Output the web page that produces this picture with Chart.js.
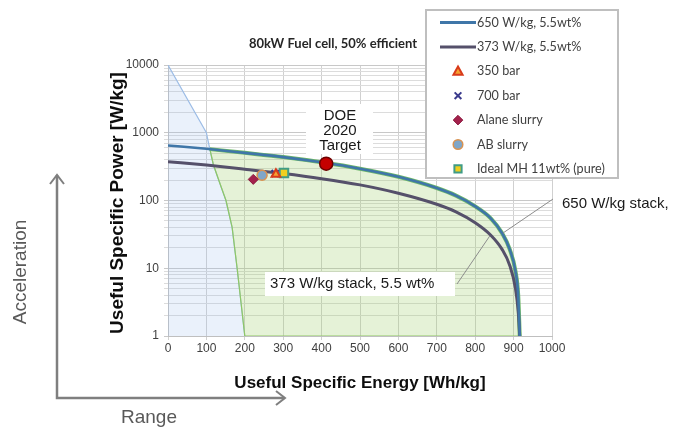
<!DOCTYPE html>
<html>
<head>
<meta charset="utf-8">
<script src="https://cdn.jsdelivr.net/npm/chart.js@4.4.1/dist/chart.umd.min.js"></script>
<style>
  html, body { margin: 0; padding: 0; background: #ffffff; }
  #wrap { width: 680px; height: 427px; }
</style>
</head>
<body>
<div id="wrap"><canvas id="c" width="680" height="427"></canvas></div>
<script>
// ---------------- data ----------------
const xTickValues = [0, 100, 200, 300, 400, 500, 600, 700, 800, 900, 1000];
const yTickLabels = [1, 10, 100, 1000, 10000];
const yGridValues = [1,2,3,4,5,6,7,8,9,10,20,30,40,50,60,70,80,90,100,200,300,400,500,600,700,800,900,1000,2000,3000,4000,5000,6000,7000,8000,9000,10000];

// Ragone curves (specific energy Wh/kg vs specific power W/kg)
const curveEnergy = [0, 100, 200, 300, 400, 500, 600, 700, 750, 800, 840, 870, 890, 905, 912, 916];
const power650    = [650, 580, 505, 437, 366, 295, 224, 153, 118, 82, 55, 33, 19, 9, 4, 1];
const power373    = [373, 333, 290, 250, 210, 170, 128, 88, 68, 47, 31, 19, 11, 5, 2.3, 1];

// blue (left) region boundary
const blueEdgeEnergy = [0, 100, 104, 109, 118, 135, 151, 167, 180, 200];
const blueEdgePower  = [10000, 1000, 780, 573, 340, 180, 100, 40, 10, 1];

// green region lower/left boundary
const greenEdgeEnergy = [109, 118, 135, 151, 167, 180, 200, 916];
const greenEdgePower  = [573, 340, 180, 100, 40, 10, 1, 1];
// green region upper boundary start (on the 650 W/kg curve)
const greenTopStart = {x: 109, y: 573};

// storage options
const pt350bar  = [{x: 281, y: 245}];
const pt700bar  = [{x: 279, y: 250}];
const ptAlane   = [{x: 222, y: 205}];
const ptAB      = [{x: 245, y: 236}];
const ptIdealMH = [{x: 302, y: 255}];
const ptDOE     = [{x: 412, y: 350}];

const legendLabels = ['650 W/kg, 5.5wt%', '373 W/kg, 5.5wt%', '350 bar', '700 bar', 'Alane slurry', 'AB slurry', 'Ideal MH 11wt% (pure)'];

// ---------------- build ----------------
const zip = (xs, ys) => xs.map((x, i) => ({x, y: ys[i]}));
const greenTop = [greenTopStart].concat(zip(curveEnergy, power650).filter(p => p.x > greenTopStart.x));

const datasets = [
  { label: legendLabels[0], inLegend: true, data: zip(curveEnergy, power650), showLine: true, pointRadius: 0,
    borderColor: '#3f76a8', borderWidth: 2.6, cubicInterpolationMode: 'monotone', fill: false, order: 2 },
  { label: legendLabels[1], inLegend: true, data: zip(curveEnergy, power373), showLine: true, pointRadius: 0,
    borderColor: '#55506a', borderWidth: 3, cubicInterpolationMode: 'monotone', fill: false, order: 2 },
  { label: legendLabels[2], inLegend: true, data: pt350bar, pointStyle: 'triangle', pointRadius: 5,
    backgroundColor: '#f5a030', borderColor: '#d83a1a', borderWidth: 2, order: 1 },
  { label: legendLabels[3], inLegend: true, data: pt700bar, pointStyle: 'crossRot', pointRadius: 5,
    backgroundColor: '#3a3a8c', borderColor: '#3a3a8c', borderWidth: 2, order: 1 },
  { label: legendLabels[4], inLegend: true, data: ptAlane, pointStyle: 'rectRot', pointRadius: 5,
    backgroundColor: '#a3214c', borderColor: '#8c1a40', borderWidth: 1, order: 1 },
  { label: legendLabels[5], inLegend: true, data: ptAB, pointStyle: 'circle', pointRadius: 5,
    backgroundColor: '#7fa6c8', borderColor: '#d99250', borderWidth: 1.5, order: 1 },
  { label: legendLabels[6], inLegend: true, data: ptIdealMH, pointStyle: 'rect', pointRadius: 6,
    backgroundColor: '#f0cf1e', borderColor: '#3f9c86', borderWidth: 2, order: 1 },
  { label: 'DOE 2020 Target', data: ptDOE, pointStyle: 'circle', pointRadius: 6.5,
    backgroundColor: '#c40000', borderColor: '#6e0000', borderWidth: 1.5, order: 1 },
  { label: 'blue region', data: zip(blueEdgeEnergy, blueEdgePower), showLine: true, pointRadius: 0,
    borderColor: '#9dbde6', borderWidth: 1.2, backgroundColor: 'rgba(160,190,235,0.22)', fill: 'start', tension: 0, order: 6 },
  { label: 'green edge', data: zip(greenEdgeEnergy, greenEdgePower), showLine: true, pointRadius: 0,
    borderColor: '#8cc665', borderWidth: 1.2, fill: false, tension: 0, order: 5 },
  { label: 'green top', data: greenTop, showLine: true, pointRadius: 0,
    borderColor: '#6fb86a', borderWidth: 4, backgroundColor: 'rgba(160,210,110,0.28)', fill: 9,
    cubicInterpolationMode: 'monotone', order: 4 }
];

// ---------------- plugins ----------------
function drawMarker(ctx, ds, x, y) {
  const r = ds.pointRadius;
  ctx.save();
  ctx.fillStyle = ds.backgroundColor;
  ctx.strokeStyle = ds.borderColor;
  ctx.lineWidth = ds.borderWidth;
  ctx.beginPath();
  switch (ds.pointStyle) {
    case 'triangle':
      ctx.moveTo(x, y - r); ctx.lineTo(x + r * 0.95, y + r * 0.7); ctx.lineTo(x - r * 0.95, y + r * 0.7); ctx.closePath();
      ctx.fill(); ctx.stroke(); break;
    case 'crossRot':
      ctx.moveTo(x - r * 0.7, y - r * 0.7); ctx.lineTo(x + r * 0.7, y + r * 0.7);
      ctx.moveTo(x + r * 0.7, y - r * 0.7); ctx.lineTo(x - r * 0.7, y + r * 0.7); ctx.stroke(); break;
    case 'rectRot':
      ctx.moveTo(x, y - r); ctx.lineTo(x + r, y); ctx.lineTo(x, y + r); ctx.lineTo(x - r, y); ctx.closePath();
      ctx.fill(); ctx.stroke(); break;
    case 'rect':
      ctx.rect(x - r * 0.75, y - r * 0.75, r * 1.5, r * 1.5); ctx.fill(); ctx.stroke(); break;
    default:
      ctx.arc(x, y, r, 0, Math.PI * 2); ctx.fill(); ctx.stroke();
  }
  ctx.restore();
}

const overlay = {
  id: 'overlay',
  afterDraw(chart) {
    const ctx = chart.ctx;
    const xs = chart.scales.x, ys = chart.scales.y;
    ctx.save();

    // chart subtitle
    ctx.fillStyle = '#262626';
    ctx.font = 'bold 13px Lato, "Open Sans", sans-serif';
    ctx.textAlign = 'center'; ctx.textBaseline = 'middle';
    ctx.fillText('80kW Fuel cell, 50% efficient', 333, 44);

    // axis titles
    ctx.fillStyle = '#0d0d0d';
    ctx.font = 'bold 17px "Liberation Sans", Arial, sans-serif';
    ctx.fillText('Useful Specific Energy [Wh/kg]', 360, 383);
    ctx.save();
    ctx.translate(118, 203); ctx.rotate(-Math.PI / 2);
    ctx.font = 'bold 19px "Liberation Sans", Arial, sans-serif';
    ctx.fillText('Useful Specific Power [W/kg]', 0, 0);
    ctx.restore();

    // Acceleration / Range arrows
    ctx.strokeStyle = '#7f7f7f'; ctx.fillStyle = '#7f7f7f'; ctx.lineWidth = 2.5;
    ctx.beginPath(); ctx.moveTo(57, 175); ctx.lineTo(57, 398); ctx.lineTo(284, 398); ctx.stroke();
    ctx.lineWidth = 2;
    ctx.beginPath(); ctx.moveTo(50, 184); ctx.lineTo(57, 175); ctx.lineTo(64, 184); ctx.stroke();
    ctx.beginPath(); ctx.moveTo(276, 391); ctx.lineTo(285, 398); ctx.lineTo(276, 405); ctx.stroke();
    ctx.fillStyle = '#595959';
    ctx.font = '19px "Liberation Sans", Arial, sans-serif';
    ctx.fillText('Range', 149, 418);
    ctx.save(); ctx.translate(21, 272); ctx.rotate(-Math.PI / 2);
    ctx.fillText('Acceleration', 0, 0); ctx.restore();

    // DOE label
    ctx.fillStyle = '#ffffff';
    ctx.fillRect(306, 104, 67, 50);
    ctx.fillStyle = '#1a1a1a';
    ctx.font = '15px "Liberation Sans", Arial, sans-serif';
    ctx.fillText('DOE', 340, 116);
    ctx.fillText('2020', 340, 131);
    ctx.fillText('Target', 340, 146);

    // leader lines to curves
    ctx.strokeStyle = '#8c8c8c'; ctx.lineWidth = 1;
    ctx.beginPath();
    ctx.moveTo(553, 199); ctx.lineTo(xs.getPixelForValue(872), ys.getPixelForValue(33));
    ctx.moveTo(457, 284); ctx.lineTo(xs.getPixelForValue(838), ys.getPixelForValue(30));
    ctx.stroke();

    // 373 label
    ctx.fillStyle = '#ffffff';
    ctx.fillRect(265, 272, 190, 24);
    ctx.fillStyle = '#1a1a1a';
    ctx.textAlign = 'left';
    ctx.fillText('373 W/kg stack, 5.5 wt%', 270, 284);
    ctx.fillText('650 W/kg stack,', 562, 204);

    // legend
    const L = {x: 426, y: 10, w: 192, h: 168};
    ctx.fillStyle = '#ffffff';
    ctx.fillRect(L.x, L.y, L.w, L.h);
    ctx.strokeStyle = '#bfbfbf'; ctx.lineWidth = 2;
    ctx.strokeRect(L.x, L.y, L.w, L.h);
    ctx.font = '12.6px Lato, "Open Sans", sans-serif';
    ctx.textBaseline = 'middle';
    const items = chart.data.datasets.filter(d => d.inLegend);
    items.forEach((ds, i) => {
      const y = 22.5 + i * 24.4;
      if (ds.showLine) {
        ctx.strokeStyle = ds.borderColor; ctx.lineWidth = 3;
        ctx.beginPath(); ctx.moveTo(440, y); ctx.lineTo(476, y); ctx.stroke();
      } else {
        drawMarker(ctx, Object.assign({}, ds, {pointRadius: Math.min(ds.pointRadius, 4.8)}), 458, y);
      }
      ctx.fillStyle = '#404040';
      ctx.fillText(ds.label, 477, y);
    });
    ctx.restore();
  }
};

Chart.defaults.font.family = '"Liberation Sans", Arial, sans-serif';
Chart.defaults.color = '#404040';

new Chart(document.getElementById('c'), {
  type: 'scatter',
  data: { datasets },
  options: {
    responsive: false,
    animation: false,
    layout: { padding: { left: 0, top: 65, right: 128, bottom: 0 } },
    plugins: { legend: { display: false }, tooltip: { enabled: false }, title: { display: false } },
    scales: {
      x: {
        type: 'linear', min: 0, max: 1000,
        afterFit: s => { s.height = 91; },
        afterBuildTicks: s => { s.ticks = xTickValues.map(v => ({value: v})); },
        ticks: { font: { size: 12 }, padding: 1, color: '#404040', maxRotation: 0, callback: v => String(v) },
        grid: { color: '#d0d0d0', tickLength: 4, lineWidth: 1 },
        border: { color: '#bfbfbf' }
      },
      y: {
        type: 'logarithmic', min: 1, max: 10000,
        afterFit: s => { s.width = 168; },
        afterBuildTicks: s => { s.ticks = yGridValues.map(v => ({value: v})); },
        ticks: {
          font: { size: 12 }, padding: 5, color: '#404040', autoSkip: false,
          callback: v => yTickLabels.includes(v) ? String(v) : ''
        },
        grid: {
          color: ctx => yTickLabels.includes(ctx.tick && ctx.tick.value) ? '#c8c8c8' : '#dcdcdc',
          tickLength: 4, lineWidth: 1
        },
        border: { color: '#bfbfbf' }
      }
    }
  },
  plugins: [overlay]
});
</script>
</body>
</html>
